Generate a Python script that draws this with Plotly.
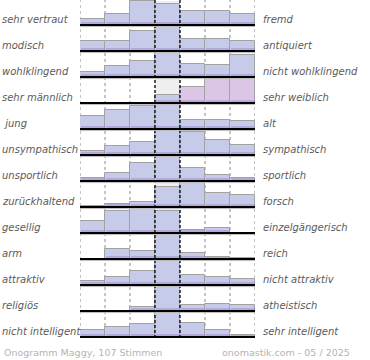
import plotly.graph_objects as go

left_labels = ["sehr vertraut", "modisch", "wohlklingend", "sehr männlich", "\u00a0jung",
               "unsympathisch", "unsportlich", "zurückhaltend", "gesellig", "arm",
               "attraktiv", "religiös", "nicht intelligent"]
right_labels = ["fremd", "antiquiert", "nicht wohlklingend", "sehr weiblich", "alt",
                "sympathisch", "sportlich", "forsch", "einzelgängerisch", "reich",
                "nicht attraktiv", "atheistisch", "sehr intelligent"]
# relative heights of the 7 answer columns per row (row maximum ~25)
votes = [
    [6, 11, 24, 21, 14, 14, 11],
    [10, 10, 20, 25, 12, 12, 10],
    [5, 11, 16, 25, 13, 12, 22],
    [0, 0, 0, 8, 16, 24, 25],
    [13, 19, 23, 25, 9, 9, 8],
    [4, 9, 13, 25, 23, 15, 10],
    [3, 8, 18, 25, 13, 6, 3],
    [1, 3, 5, 20, 25, 14, 12],
    [12, 22, 25, 22, 3, 5, 0],
    [0, 10, 8, 25, 6, 2, 1],
    [4, 8, 14, 24, 10, 8, 6],
    [0, 0, 4, 25, 6, 7, 6],
    [7, 10, 13, 24, 14, 7, 2],
]
footer_left = "Onogramm Maggy, 107 Stimmen"
footer_right = "onomastik.com - 05 / 2025"

ROW = 26.0
n = len(votes)
BLUE = "#c6cbe9"
PINK = "#dcc6e6"

fig = go.Figure()

xs, ys, bases, cols = [], [], [], []
bx, by, bb = [], [], []
gx, gy, gb = [], [], []
for i, row in enumerate(votes):
    base = (n - 1 - i) + 1 / ROW
    gx.append(3.5); gy.append(24.5 / ROW); gb.append(base)
    for j, v in enumerate(row):
        if v <= 0:
            continue
        xs.append(j + 0.5); ys.append(v / ROW); bases.append(base)
        cols.append(PINK if (i == 3 and j >= 4) else BLUE)
        bx.append(j + 0.5); by.append(min(v, 3.5) / ROW); bb.append(base)

fig.add_trace(go.Bar(x=gx, y=gy, base=gb, width=1, marker=dict(color="#efefef", line=dict(width=0)),
                     hoverinfo="skip", showlegend=False))
fig.add_trace(go.Bar(x=xs, y=ys, base=bases, width=1,
                     marker=dict(color=cols, line=dict(color="#a2a2a2", width=1)),
                     hoverinfo="skip", showlegend=False))
fig.add_trace(go.Bar(x=bx, y=by, base=bb, width=0.96,
                     marker=dict(color="rgba(150,130,200,0.45)", line=dict(width=0)),
                     hoverinfo="skip", showlegend=False))

shapes = []
for k in range(8):
    if k in (3, 4):
        continue
    shapes.append(dict(type="line", xref="x", yref="y", x0=k, x1=k, y0=0, y1=n,
                       line=dict(color="#8a8a8a", width=1, dash="dot"), layer="below"))
for k in (3, 4):
    shapes.append(dict(type="line", xref="x", yref="y", x0=k, x1=k, y0=0, y1=n,
                       line=dict(color="#000000", width=1.3, dash="3px,2px"), layer="above"))
for i in range(n):
    base = (n - 1 - i) + 1 / ROW
    shapes.append(dict(type="line", xref="x", yref="y", x0=0, x1=7.1, y0=base - 1.6 / ROW, y1=base - 1.6 / ROW,
                       line=dict(color="#bbbbbb", width=1), layer="above"))
    shapes.append(dict(type="line", xref="x", yref="y", x0=0, x1=7.1, y0=base, y1=base,
                       line=dict(color="#000000", width=2), layer="above"))

annotations = []
lab_font = dict(family="DejaVu Sans", size=10, color="#5a5a5a", style="italic")
for i in range(n):
    base = (n - 1 - i) + 1 / ROW
    yl = base + 6 / ROW
    annotations.append(dict(text=left_labels[i], xref="paper", yref="y", x=-80 / 175, y=yl,
                            xanchor="left", yanchor="middle", showarrow=False, font=lab_font))
    annotations.append(dict(text=right_labels[i], xref="paper", yref="y", x=181 / 175, y=yl,
                            xanchor="left", yanchor="middle", showarrow=False, font=lab_font))
foot_font = dict(family="DejaVu Sans", size=9.5, color="#b4b4b4")
annotations.append(dict(text=footer_left, xref="paper", yref="paper", x=-78 / 175, y=-14 / 338,
                        xanchor="left", yanchor="middle", showarrow=False, font=foot_font))
annotations.append(dict(text=footer_right, xref="paper", yref="paper", x=140 / 175, y=-14 / 338,
                        xanchor="left", yanchor="middle", showarrow=False, font=foot_font))

fig.update_layout(
    width=370, height=360, autosize=False,
    margin=dict(l=80, r=115, t=0, b=22, pad=0),
    paper_bgcolor="white", plot_bgcolor="white",
    barmode="overlay", bargap=0,
    showlegend=False,
    shapes=shapes, annotations=annotations,
    xaxis=dict(range=[0, 7], showgrid=False, zeroline=False, showticklabels=False, fixedrange=True),
    yaxis=dict(range=[0, n], showgrid=False, zeroline=False, showticklabels=False, fixedrange=True),
)

fig.write_html("out.html", config={"displayModeBar": False},
               post_script="document.body.style.margin='0';document.body.style.padding='0';")
